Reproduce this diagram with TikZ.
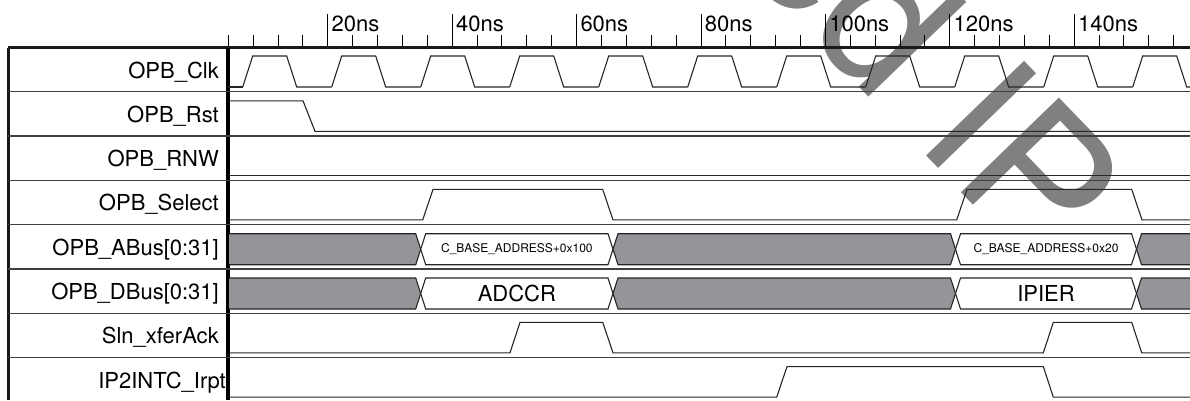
\documentclass[tikz,border=0pt]{standalone}
\usepackage{fontspec}
\setmainfont{TeX Gyre Heros}
\definecolor{busgray}{RGB}{147,149,153}
\definecolor{markgray}{RGB}{128,128,128}
\tikzset{
  wave/.style={line width=1.1pt, black!85, line join=miter},
  rowline/.style={line width=1.3pt, black!75},
  frame/.style={line width=3pt, black!90},
  signame/.style={anchor=base east, inner sep=0pt, font=\fontsize{22}{26}\selectfont},
  busfill/.style={wave, fill=busgray},
  busval/.style={wave, fill=white},
}
\begin{document}
\begin{tikzpicture}[x=1pt, y=-1pt]
  \useasboundingbox (0,0) rectangle (1190,400);
  \clip (0,0) rectangle (1190,400);

  % Watermark
  \node[markgray, rotate=-46, anchor=base east, inner sep=0pt,
        font=\fontsize{187}{187}\selectfont] (mark) at (1036,270) {Discontinued IP};

  % Time ruler
  \foreach \j in {0,...,38}
    \draw[line width=1pt] (228.3+24.88*\j,35) -- (228.3+24.88*\j,46);
  \foreach \n [count=\k from 0] in {20,40,...,140} {
    \draw[line width=1pt] (327.8+124.4*\k,14) -- (327.8+124.4*\k,46);
    \node[anchor=base west, inner sep=0pt, font=\fontsize{22}{26}\selectfont]
      (t\n) at (331.5+124.4*\k,31) {\n ns};
  }

  % Frame and rows
  \draw[frame] (8,47.5) -- (1190,47.5);
  \draw[frame] (8,47.5) -- (8,400);
  \draw[line width=3.5pt] (228,47.5) -- (228,400);
  \foreach \i in {1,...,7}
    \draw[rowline] (8,47.5+44.3*\i) -- (1190,47.5+44.3*\i);

  % Signal names
  \foreach \nm/\lab [count=\i from 0] in {clk/{OPB\_Clk}, rst/{OPB\_Rst}, rnw/{OPB\_RNW},
      sel/{OPB\_Select}, abus/{OPB\_ABus[0:31]}, dbus/{OPB\_DBus[0:31]},
      ack/{Sln\_xferAck}}
    \node[signame] (\nm) at (219,47.5+44.3*\i+30.5) {\lab};
  \node[signame] (irpt) at (226,47.5+44.3*7+30.5) {IP2INTC\_Irpt};

  % Clock
  \draw[wave] (228,87) -- (242.7,87);
  \foreach \k in {0,...,10}
    \draw[wave] (242.7+89*\k,87) -- ++(10,-31) -- ++(34,0) -- ++(10,31) -- ++(35,0);

  % Reset, RNW, Select
  \draw[wave] (229,100.8) -- (303,100.8) -- (315,131.3) -- (1190,131.3);
  \draw[wave] (229,175.6) -- (1190,175.6);
  \draw[wave] (229,219.9) -- (422.7,219.9) -- (433,189.4) -- (602.7,189.4) -- (613,219.9)
    -- (956.7,219.9) -- (967,189.4) -- (1131.7,189.4) -- (1142,219.9) -- (1190,219.9);

  % Address and data bus
  \foreach \t/\val [count=\r] in {233.7/{\fontsize{12}{14}\selectfont C\_BASE\_ADDRESS+0x100},
      278/{\fontsize{22}{26}\selectfont ADCCR}} {
    \pgfmathsetmacro{\b}{\t+31}
    \pgfmathsetmacro{\m}{\t+15.5}
    \draw[busfill] (229,\t) -- (415.7,\t) -- (420.7,\m) -- (415.7,\b) -- (229,\b);
    \draw[busval] (420.7,\m) -- (425.7,\t) -- (608,\t) -- (613,\m) -- (608,\b) -- (425.7,\b) -- cycle;
    \draw[busfill] (613,\m) -- (618,\t) -- (950.5,\t) -- (955.5,\m) -- (950.5,\b) -- (618,\b) -- cycle;
    \draw[busval] (955.5,\m) -- (960.5,\t) -- (1131.5,\t) -- (1136.5,\m) -- (1131.5,\b) -- (960.5,\b) -- cycle;
    \draw[busfill] (1195,\t) -- (1141.5,\t) -- (1136.5,\m) -- (1141.5,\b) -- (1195,\b);
    \node[inner sep=0pt] (v\r) at (516.9,\m) {\val};
  }
  \node[inner sep=0pt, font=\fontsize{12}{14}\selectfont] (v3) at (1046,249.2) {C\_BASE\_ADDRESS+0x20};
  \node[inner sep=0pt, font=\fontsize{22}{26}\selectfont] (v4) at (1046,293.5) {IPIER};

  % Acknowledge and interrupt
  \draw[wave] (229,352.8) -- (510,352.8) -- (520,322.3) -- (602.7,322.3) -- (613,352.8)
    -- (1043.3,352.8) -- (1053.3,322.3) -- (1131.7,322.3) -- (1141.7,352.8) -- (1190,352.8);
  \draw[wave] (229,397.1) -- (776.7,397.1) -- (787,366.6) -- (1043.3,366.6) -- (1053.3,397.1) -- (1190,397.1);
\end{tikzpicture}
\end{document}
